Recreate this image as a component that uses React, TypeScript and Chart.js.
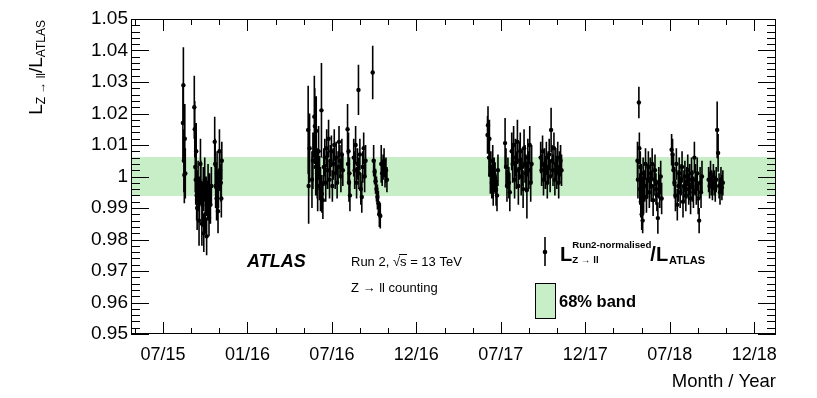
import React, { useEffect, useRef } from "react";
import { Chart, registerables } from "chart.js";

Chart.register(...registerables);

// ---------- axis definitions ----------
// x values are days counted from 2015-01-01
const xMinDay = 128.6;
const xMaxDay = 1488;
const xTickDays = [196, 374, 552, 730, 908, 1086, 1264, 1442];
const xTickLabels = ["07/15", "01/16", "07/16", "12/16", "07/17", "12/17", "07/18", "12/18"];
const yMin = 0.95;
const yMax = 1.05;
const yTickValues = [0.95, 0.96, 0.97, 0.98, 0.99, 1.0, 1.01, 1.02, 1.03, 1.04, 1.05];
const yTickLabels = ["0.95", "0.96", "0.97", "0.98", "0.99", "1", "1.01", "1.02", "1.03", "1.04", "1.05"];

// ---------- 68% band ----------
const bandLow = 0.9938;
const bandHigh = 1.0062;

// ---------- data: 2015 ----------
const days2015 = [238, 239, 240, 241, 242, 243, 262, 263, 264, 265, 266, 267, 268, 270, 272, 273, 275, 276, 278, 279, 281, 282, 284, 285, 287, 288, 290, 291, 293, 294, 296, 298, 305, 306, 307, 309, 310, 312, 313, 315, 316, 318, 319, 320];
const ratio2015 = [1.017, 1.029, 1.005, 1.0005, 1.012, 1.001, 1.022, 1.015, 1.003, 0.999, 1.008, 0.994, 0.99, 0.997, 0.986, 0.993, 1.004, 0.998, 0.985, 0.991, 0.996, 0.982, 0.999, 0.988, 0.994, 0.981, 0.992, 0.998, 0.987, 0.995, 0.991, 0.997, 1.011, 1.004, 0.997, 0.993, 1.001, 0.989, 0.996, 1.008, 1.002, 0.998, 0.993, 1.005];
const err2015 = [0.012, 0.012, 0.01, 0.009, 0.011, 0.008, 0.01, 0.009, 0.008, 0.008, 0.009, 0.008, 0.007, 0.008, 0.008, 0.007, 0.008, 0.007, 0.007, 0.007, 0.007, 0.006, 0.007, 0.006, 0.006, 0.006, 0.006, 0.006, 0.006, 0.006, 0.006, 0.006, 0.008, 0.008, 0.007, 0.007, 0.007, 0.007, 0.006, 0.007, 0.006, 0.006, 0.006, 0.006];

// ---------- data: 2016 ----------
const days2016 = [502, 503, 505, 510, 512, 515, 516, 518, 519, 521, 522, 524, 526, 528, 530, 531, 533, 535, 537, 539, 541, 543, 545, 547, 549, 551, 553, 555, 557, 559, 561, 563, 565, 567, 569, 571, 573, 575, 585, 586, 587, 588, 589, 590, 598, 600, 602, 604, 606, 608, 609, 611, 613, 615, 617, 619, 621, 623, 638, 640, 642, 644, 646, 648, 650, 652, 654, 656, 658, 660, 662, 664, 666, 668];
const ratio2016 = [1.0148, 0.997, 1.009, 0.999, 1.005, 1.019, 1.016, 1.003, 1.0145, 1.001, 0.997, 1.008, 0.9995, 0.996, 1.021, 0.9945, 0.9925, 1.003, 1.006, 0.998, 1.009, 1.002, 1.012, 0.999, 1.005, 1.008, 0.997, 1.004, 1.01, 1.001, 1.006, 0.998, 1.003, 1.011, 1.005, 1.0, 1.007, 1.002, 1.015, 1.004, 1.008, 0.998, 1.001, 0.994, 1.006, 1.002, 1.01, 0.998, 1.004, 1.0275, 1.001, 1.007, 0.996, 0.9935, 1.003, 1.009, 1.0, 1.005, 1.033, 1.005, 1.0015, 0.9985, 0.996, 0.9935, 0.9915, 0.988, 0.9875, 1.004, 1.001, 1.003, 1.005, 1.0005, 1.002, 0.999];
const err2016 = [0.014, 0.012, 0.011, 0.009, 0.009, 0.013, 0.012, 0.009, 0.011, 0.008, 0.008, 0.008, 0.007, 0.007, 0.015, 0.006, 0.006, 0.006, 0.006, 0.006, 0.006, 0.006, 0.006, 0.006, 0.005, 0.005, 0.005, 0.005, 0.005, 0.005, 0.005, 0.005, 0.005, 0.005, 0.005, 0.005, 0.005, 0.005, 0.008, 0.006, 0.006, 0.006, 0.005, 0.005, 0.006, 0.006, 0.006, 0.005, 0.005, 0.008, 0.005, 0.005, 0.005, 0.005, 0.005, 0.005, 0.005, 0.005, 0.0085, 0.005, 0.004, 0.004, 0.004, 0.004, 0.004, 0.004, 0.004, 0.006, 0.004, 0.004, 0.004, 0.004, 0.004, 0.004];

// ---------- data: 2017 ----------
const days2017 = [880, 881, 883, 884, 886, 887, 889, 891, 892, 894, 896, 898, 900, 902, 917, 919, 921, 923, 925, 927, 931, 933, 935, 937, 939, 941, 943, 945, 947, 949, 951, 953, 955, 957, 959, 961, 963, 965, 967, 969, 971, 973, 992, 994, 996, 998, 1000, 1002, 1004, 1006, 1008, 1010, 1012, 1014, 1016, 1018, 1020, 1022, 1024, 1026, 1028, 1030, 1032, 1034, 1036];
const ratio2017 = [1.0132, 1.0163, 1.006, 1.012, 1.0005, 1.003, 0.998, 1.005, 0.9957, 1.001, 0.9995, 0.9957, 0.994, 1.002, 1.0106, 1.003, 0.997, 1.001, 0.998, 0.995, 1.008, 1.004, 1.01, 0.999, 1.006, 1.002, 1.011, 0.997, 1.005, 1.008, 1.0, 1.003, 0.996, 1.009, 1.004, 1.001, 0.9957, 1.006, 1.002, 1.01, 0.998, 1.004, 1.006, 1.002, 1.008, 0.999, 1.004, 1.001, 1.006, 0.998, 1.003, 1.007, 1.0, 1.0148, 1.005, 1.002, 1.009, 0.999, 1.004, 1.001, 1.006, 0.998, 1.003, 1.005, 1.002];
const err2017 = [0.006, 0.006, 0.006, 0.006, 0.006, 0.005, 0.005, 0.005, 0.005, 0.005, 0.005, 0.005, 0.005, 0.005, 0.008, 0.006, 0.005, 0.005, 0.005, 0.006, 0.006, 0.006, 0.006, 0.006, 0.006, 0.006, 0.007, 0.006, 0.006, 0.006, 0.006, 0.006, 0.006, 0.006, 0.006, 0.006, 0.009, 0.006, 0.006, 0.006, 0.006, 0.006, 0.005, 0.005, 0.005, 0.005, 0.005, 0.005, 0.005, 0.005, 0.005, 0.005, 0.005, 0.007, 0.005, 0.005, 0.005, 0.005, 0.005, 0.005, 0.005, 0.005, 0.005, 0.005, 0.005];

// ---------- data: 2018 ----------
const days2018 = [1196, 1197, 1199, 1200, 1201, 1202, 1203, 1204, 1205, 1206, 1207, 1208, 1209, 1211, 1213, 1215, 1217, 1219, 1221, 1223, 1225, 1227, 1229, 1231, 1233, 1235, 1237, 1239, 1241, 1243, 1245, 1247, 1268, 1270, 1272, 1274, 1276, 1278, 1280, 1282, 1284, 1286, 1288, 1290, 1292, 1294, 1296, 1298, 1300, 1302, 1304, 1306, 1308, 1310, 1312, 1314, 1316, 1318, 1320, 1322, 1324, 1326, 1328, 1330, 1332, 1346, 1348, 1350, 1352, 1354, 1356, 1358, 1360, 1362, 1364, 1366, 1368, 1370, 1372, 1374, 1376];
const ratio2018 = [1.005, 0.999, 1.0235, 1.009, 0.996, 1.003, 0.992, 0.999, 0.988, 0.995, 0.986, 1.001, 0.993, 0.997, 1.004, 0.9935, 0.999, 1.003, 0.995, 1.001, 0.997, 1.004, 0.9925, 0.999, 1.002, 0.996, 0.994, 0.9868, 0.998, 0.995, 1.0, 0.993, 1.0085, 1.007, 1.002, 0.998, 0.994, 1.004, 0.991, 0.997, 1.001, 0.995, 0.999, 1.003, 0.992, 0.997, 1.0, 0.994, 0.998, 1.002, 0.996, 0.999, 0.993, 1.001, 0.997, 0.995, 1.006, 0.999, 0.996, 1.001, 0.993, 0.986, 0.998, 0.995, 1.0, 0.999, 0.997, 1.001, 0.998, 0.9965, 1.0, 0.998, 0.996, 0.999, 1.0148, 1.0075, 0.997, 0.995, 0.999, 0.9965, 0.998];
const err2018 = [0.006, 0.006, 0.005, 0.005, 0.005, 0.005, 0.005, 0.005, 0.005, 0.005, 0.004, 0.005, 0.005, 0.005, 0.005, 0.005, 0.005, 0.005, 0.005, 0.005, 0.005, 0.005, 0.005, 0.005, 0.005, 0.005, 0.005, 0.005, 0.005, 0.005, 0.005, 0.005, 0.005, 0.005, 0.005, 0.005, 0.005, 0.005, 0.005, 0.005, 0.005, 0.005, 0.005, 0.005, 0.005, 0.005, 0.005, 0.005, 0.005, 0.005, 0.005, 0.005, 0.005, 0.005, 0.005, 0.005, 0.005, 0.005, 0.005, 0.005, 0.005, 0.004, 0.005, 0.005, 0.005, 0.004, 0.004, 0.004, 0.004, 0.004, 0.004, 0.004, 0.004, 0.004, 0.009, 0.006, 0.004, 0.004, 0.004, 0.004, 0.004];

const series = [
  { days: days2015, ratio: ratio2015, err: err2015 },
  { days: days2016, ratio: ratio2016, err: err2016 },
  { days: days2017, ratio: ratio2017, err: err2017 },
  { days: days2018, ratio: ratio2018, err: err2018 },
];

const FONT = "'Liberation Sans', Arial, Helvetica, sans-serif";
const BAND_COLOR = "rgb(199, 238, 199)";

const errorBarPlugin = {
  id: "errorBars",
  afterDatasetsDraw(chart: any) {
    const { ctx, chartArea } = chart;
    const xs = chart.scales.x;
    const ys = chart.scales.y;
    ctx.save();
    ctx.beginPath();
    ctx.rect(chartArea.left, chartArea.top, chartArea.right - chartArea.left, chartArea.bottom - chartArea.top);
    ctx.clip();
    ctx.strokeStyle = "#000";
    ctx.lineWidth = 1.6;
    ctx.beginPath();
    for (const s of series) {
      for (let i = 0; i < s.days.length; i++) {
        const px = xs.getPixelForValue(s.days[i]);
        ctx.moveTo(px, ys.getPixelForValue(s.ratio[i] + s.err[i]));
        ctx.lineTo(px, ys.getPixelForValue(s.ratio[i] - s.err[i]));
      }
    }
    ctx.stroke();
    ctx.restore();
  },
};

const framePlugin = {
  id: "frameTicks",
  afterDraw(chart: any) {
    const { ctx, chartArea } = chart;
    const { left, right, top, bottom } = chartArea;
    const xs = chart.scales.x;
    const ys = chart.scales.y;
    ctx.save();
    ctx.strokeStyle = "#000";
    ctx.lineWidth = 1;
    ctx.strokeRect(left + 0.5, top + 0.5, right - left - 1, bottom - top - 1);
    ctx.beginPath();
    // y ticks (every 0.002, major every 0.01)
    for (let k = 0; k <= 50; k++) {
      const v = yMin + k * 0.002;
      const py = Math.round(ys.getPixelForValue(v)) + 0.5;
      const len = k % 5 === 0 ? 18 : 9;
      ctx.moveTo(left, py);
      ctx.lineTo(left + len, py);
      ctx.moveTo(right, py);
      ctx.lineTo(right - len, py);
    }
    // x ticks: majors and two minors between
    const step = (xTickDays[1] - xTickDays[0]) / 3;
    const xTicks: { v: number; major: boolean }[] = [];
    for (let k = -3; k < xTickDays.length * 3; k++) {
      const v = xTickDays[0] + k * step;
      if (v < xMinDay || v > xMaxDay) continue;
      xTicks.push({ v, major: k % 3 === 0 });
    }
    for (const t of xTicks) {
      const px = Math.round(xs.getPixelForValue(t.v)) + 0.5;
      const len = t.major ? 12 : 6;
      ctx.moveTo(px, bottom);
      ctx.lineTo(px, bottom - len);
      ctx.moveTo(px, top);
      ctx.lineTo(px, top + len);
    }
    ctx.stroke();
    ctx.restore();
  },
};

function drawRich(ctx: any, parts: { t: string; size: number; dy: number; bold?: boolean; italic?: boolean }[], x: number, y: number) {
  let cx = x;
  for (const p of parts) {
    ctx.font = `${p.italic ? "italic " : ""}${p.bold ? "bold " : ""}${p.size}px ${FONT}`;
    ctx.fillText(p.t, cx, y + p.dy);
    cx += ctx.measureText(p.t).width;
  }
  return cx;
}

const textPlugin = {
  id: "texts",
  afterDraw(chart: any) {
    const { ctx, chartArea } = chart;
    ctx.save();
    ctx.fillStyle = "#000";
    ctx.strokeStyle = "#000";
    ctx.textBaseline = "alphabetic";
    ctx.textAlign = "left";

    // y-axis title, rotated, right-aligned to top of the frame
    const yParts = [
      { t: "L", size: 19, dy: 0 },
      { t: "Z \u2192 ll", size: 12, dy: 3 },
      { t: "/L", size: 19, dy: 0 },
      { t: "ATLAS", size: 12, dy: 3 },
    ];
    let total = 0;
    for (const p of yParts) {
      ctx.font = `${p.size}px ${FONT}`;
      total += ctx.measureText(p.t).width;
    }
    ctx.save();
    ctx.translate(42, chartArea.top + 1 + total);
    ctx.rotate(-Math.PI / 2);
    drawRich(ctx, yParts, 0, 0);
    ctx.restore();

    // x-axis title
    ctx.font = `18.5px ${FONT}`;
    ctx.textAlign = "right";
    ctx.fillText("Month / Year", chartArea.right, 387);
    ctx.textAlign = "left";

    // ATLAS label
    ctx.font = `italic bold 18px ${FONT}`;
    ctx.fillText("ATLAS", 247, 267);

    // Run 2, sqrt(s) = 13 TeV  (with overline on s)
    ctx.font = `13px ${FONT}`;
    let cx = 351;
    const y1 = 266;
    ctx.fillText("Run 2, ", cx, y1);
    cx += ctx.measureText("Run 2, ").width;
    ctx.fillText("\u221A", cx, y1);
    const rootW = ctx.measureText("\u221A").width;
    const sW = ctx.measureText("s").width;
    ctx.fillText("s", cx + rootW, y1);
    ctx.lineWidth = 1;
    ctx.beginPath();
    ctx.moveTo(cx + rootW - 1, y1 - 11.5);
    ctx.lineTo(cx + rootW + sW + 0.5, y1 - 11.5);
    ctx.stroke();
    cx += rootW + sW;
    ctx.fillText(" = 13 TeV", cx, y1);
    ctx.fillText("Z \u2192 ll counting", 351, 292);

    // legend: data marker
    ctx.lineWidth = 1.6;
    ctx.beginPath();
    ctx.moveTo(545, 237);
    ctx.lineTo(545, 266);
    ctx.stroke();
    ctx.beginPath();
    ctx.arc(545, 252, 2.3, 0, Math.PI * 2);
    ctx.fill();

    // legend: data label
    let lx = 560;
    ctx.font = `bold 20px ${FONT}`;
    ctx.fillText("L", lx, 261);
    lx += ctx.measureText("L").width;
    ctx.font = `bold 9.7px ${FONT}`;
    ctx.fillText("Run2-normalised", lx, 248);
    const supW = ctx.measureText("Run2-normalised").width;
    ctx.fillText("Z \u2192 ll", lx, 263);
    lx += supW;
    ctx.font = `bold 20px ${FONT}`;
    ctx.fillText("/L", lx - 1, 261);
    lx += ctx.measureText("/L").width - 1;
    ctx.font = `bold 11px ${FONT}`;
    ctx.fillText("ATLAS", lx + 1, 264);

    // legend: band
    ctx.fillStyle = BAND_COLOR;
    ctx.fillRect(535, 283, 20, 35);
    ctx.lineWidth = 1;
    ctx.strokeRect(535.5, 283.5, 20, 35);
    ctx.fillStyle = "#000";
    ctx.font = `bold 16.5px ${FONT}`;
    ctx.fillText("68% band", 559, 307);

    ctx.restore();
  },
};

export default function App() {
  const canvasRef = useRef<HTMLCanvasElement | null>(null);

  useEffect(() => {
    if (!canvasRef.current) return;
    const pointDatasets = series.map((s) => ({
      type: "scatter" as const,
      data: s.days.map((d, i) => ({ x: d, y: s.ratio[i] })),
      pointRadius: 2.2,
      pointBackgroundColor: "#000",
      pointBorderWidth: 0,
      showLine: false,
      order: 0,
    }));
    const chart = new Chart(canvasRef.current, {
      type: "scatter",
      data: {
        datasets: [
          {
            type: "line",
            data: [
              { x: xMinDay, y: bandHigh },
              { x: xMaxDay, y: bandHigh },
            ],
            borderWidth: 0,
            borderColor: "rgba(0,0,0,0)",
            pointRadius: 0,
            backgroundColor: BAND_COLOR,
            fill: { value: bandLow },
            order: 10,
          } as any,
          ...pointDatasets,
        ],
      },
      options: {
        animation: false,
        responsive: false,
        devicePixelRatio: 1,
        events: [],
        layout: { padding: { top: 19, right: 41, left: 0, bottom: 0 } },
        plugins: {
          legend: { display: false },
          tooltip: { enabled: false },
        },
        scales: {
          x: {
            type: "linear",
            min: xMinDay,
            max: xMaxDay,
            afterBuildTicks: (s: any) => {
              s.ticks = xTickDays.map((v) => ({ value: v }));
            },
            afterFit: (s: any) => {
              s.height = 64;
            },
            ticks: {
              autoSkip: false,
              maxRotation: 0,
              minRotation: 0,
              padding: 10,
              color: "#000",
              font: { family: FONT, size: 18 },
              callback: (v: any) => {
                const i = xTickDays.indexOf(Number(v));
                return i >= 0 ? xTickLabels[i] : "";
              },
            },
            grid: { display: false, drawTicks: false },
            border: { display: false },
          },
          y: {
            type: "linear",
            min: yMin,
            max: yMax,
            afterBuildTicks: (s: any) => {
              s.ticks = yTickValues.map((v) => ({ value: v }));
            },
            afterFit: (s: any) => {
              s.width = 131;
            },
            ticks: {
              autoSkip: false,
              padding: 3,
              color: "#000",
              font: { family: FONT, size: 19 },
              callback: (v: any) => {
                const i = yTickValues.findIndex((t) => Math.abs(t - Number(v)) < 1e-9);
                return i >= 0 ? yTickLabels[i] : "";
              },
            },
            grid: { display: false, drawTicks: false },
            border: { display: false },
          },
        },
      } as any,
      plugins: [errorBarPlugin, framePlugin, textPlugin],
    });
    return () => chart.destroy();
  }, []);

  return (
    <div style={{ position: "absolute", left: 0, top: 0, width: 817, height: 398, background: "#fff" }}>
      <canvas ref={canvasRef} width={817} height={398} style={{ width: 817, height: 398, display: "block" }} />
    </div>
  );
}
